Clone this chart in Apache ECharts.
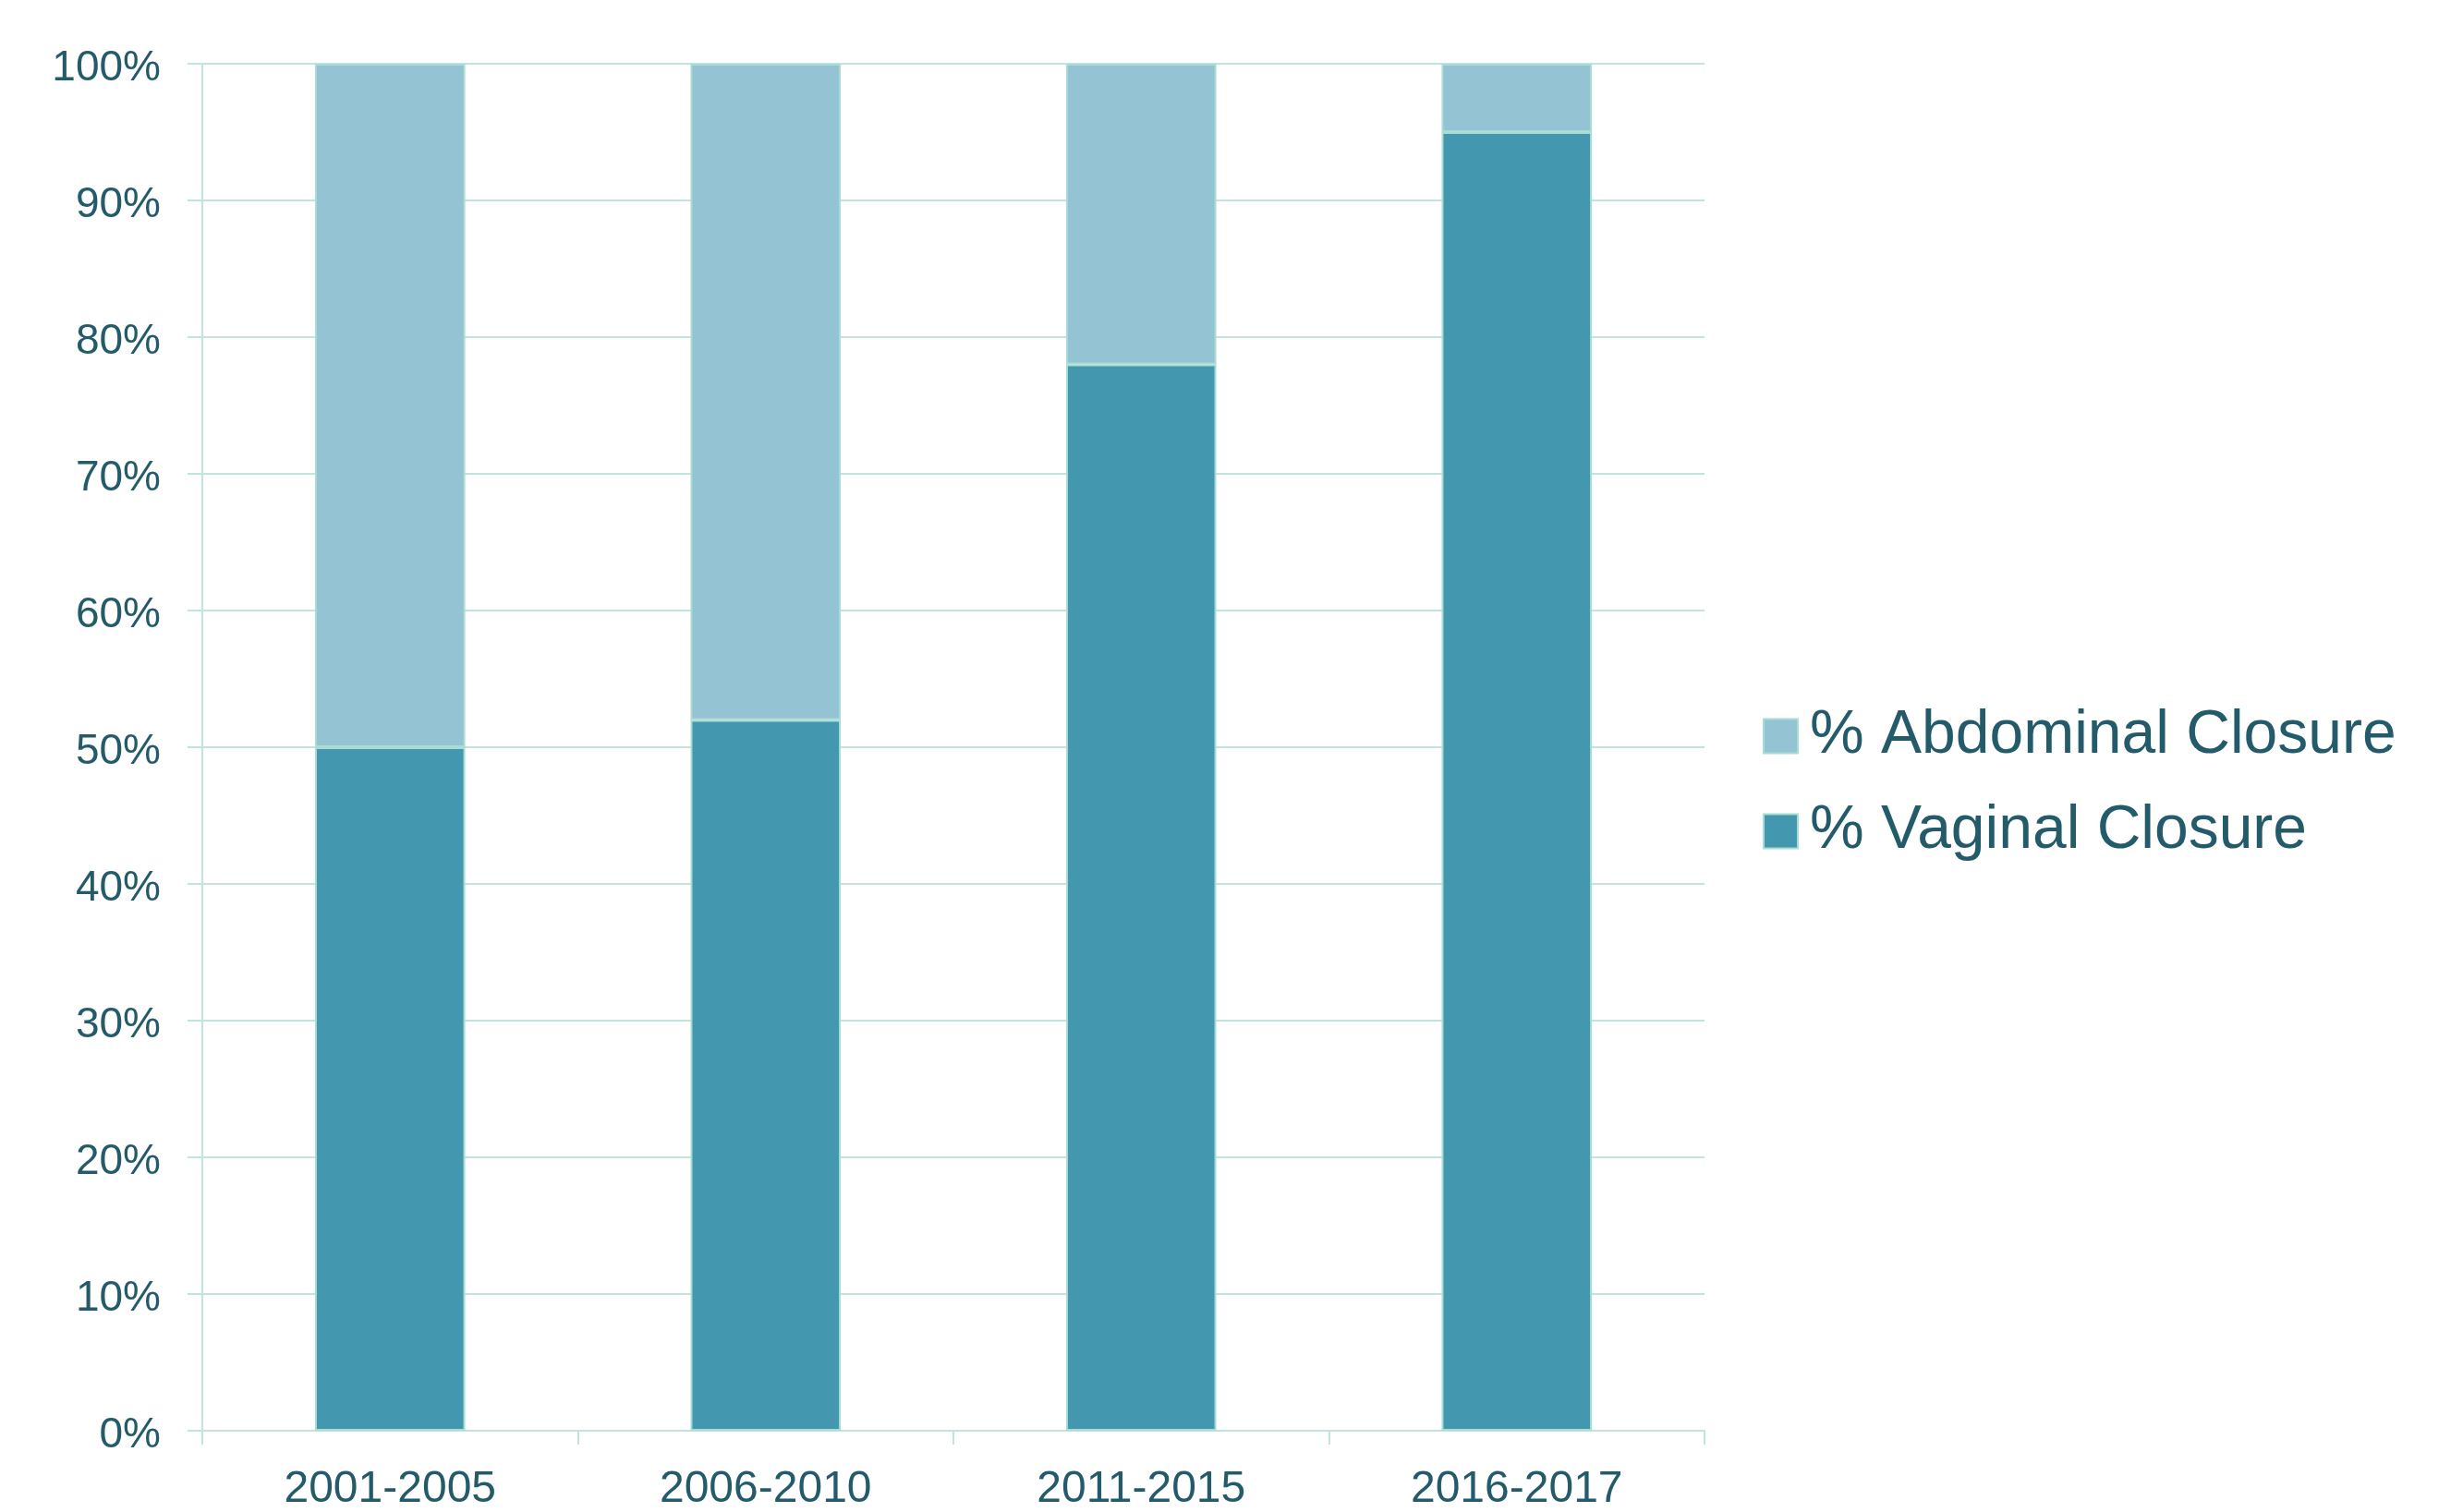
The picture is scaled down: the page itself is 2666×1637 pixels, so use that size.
<!DOCTYPE html>
<html>
<head>
<meta charset="utf-8">
<script src="https://cdn.jsdelivr.net/npm/echarts@6/dist/echarts.min.js"></script>
<style>
html,body{margin:0;padding:0;background:#fff;}
#chart{width:2666px;height:1637px;}
</style>
</head>
<body>
<div id="chart"></div>
<script>
const categories = ['2001-2005', '2006-2010', '2011-2015', '2016-2017'];
const vaginal = [50, 52, 78, 95];
const abdominal = [50, 48, 22, 5];
const seriesNames = ['% Vaginal Closure', '% Abdominal Closure'];
const legendOrder = ['% Abdominal Closure', '% Vaginal Closure'];

const textColor = '#245b6b';
const gridColor = '#c3e4de';
const borderColor = '#a9dcd4';
const font = '"Liberation Sans", Arial, sans-serif';

const chart = echarts.init(document.getElementById('chart'));
chart.setOption({
  animation: false,
  backgroundColor: '#fff',
  grid: { left: 219, right: 821, top: 69, bottom: 85, containLabel: false },
  legend: {
    data: legendOrder,
    orient: 'vertical',
    left: 1903,
    top: 759,
    itemWidth: 37,
    itemHeight: 37,
    itemGap: 37,
    icon: 'rect',
    textStyle: { fontSize: 66, color: textColor, fontFamily: font, padding: [0, 0, 0, 8] }
  },
  xAxis: {
    type: 'category',
    data: categories,
    boundaryGap: true,
    axisLine: { show: true, lineStyle: { color: gridColor, width: 2 } },
    axisTick: { show: true, length: 15, lineStyle: { color: gridColor, width: 2 } },
    axisLabel: { fontSize: 48, color: textColor, fontFamily: font, margin: 40 }
  },
  yAxis: {
    type: 'value',
    min: 0,
    max: 100,
    interval: 10,
    axisLine: { show: true, lineStyle: { color: gridColor, width: 2 } },
    axisTick: { show: true, length: 16, lineStyle: { color: gridColor, width: 2 } },
    splitLine: { show: true, lineStyle: { color: gridColor, width: 2 } },
    axisLabel: {
      margin: 45,
      formatter: function (v) { return '{a|' + v + '%}'; },
      rich: { a: { fontSize: 46, color: textColor, fontFamily: font, padding: [10, 0, 0, 0] } }
    }
  },
  series: [
    {
      name: seriesNames[0],
      type: 'bar',
      stack: 'total',
      data: vaginal,
      barWidth: '40%',
      itemStyle: { color: '#4397af', borderColor: borderColor, borderWidth: 2 }
    },
    {
      name: seriesNames[1],
      type: 'bar',
      stack: 'total',
      data: abdominal,
      barWidth: '40%',
      itemStyle: { color: '#94c3d4', borderColor: borderColor, borderWidth: 2 }
    }
  ]
});
</script>
</body>
</html>
